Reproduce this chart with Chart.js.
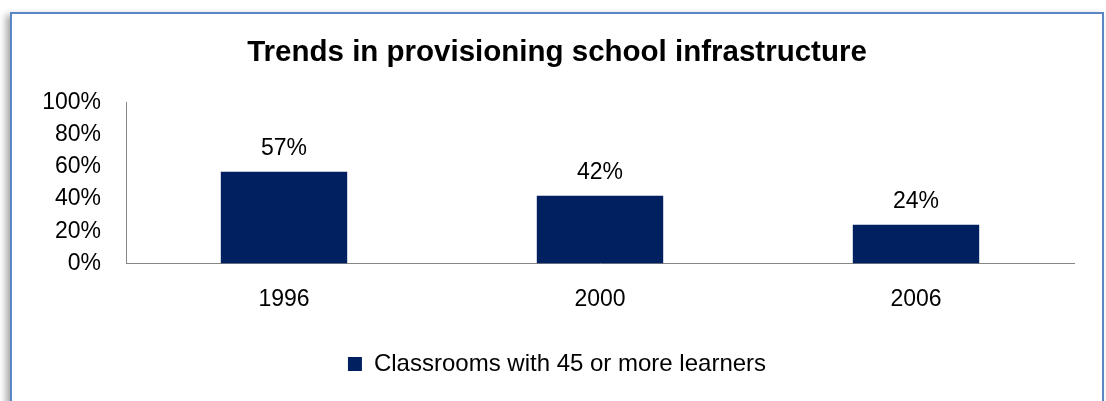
<!DOCTYPE html>
<html>
<head>
<meta charset="utf-8">
<title>Trends in provisioning school infrastructure</title>
<script src="https://cdn.jsdelivr.net/npm/chart.js@4/dist/chart.umd.min.js"></script>
<style>
  html, body { margin: 0; padding: 0; background: #ffffff; }
  body { width: 1106px; height: 401px; position: relative; overflow: hidden; }
  #frame {
    position: absolute; left: 10px; top: 12px; width: 1094px; height: 391px;
    box-sizing: border-box; border: 2px solid #5a86c3;
    box-shadow: -4px 3px 7px rgba(0, 0, 0, 0.35);
    background: #ffffff;
  }
  #chart { position: absolute; left: 0; top: 0; }
</style>
</head>
<body>
<div id="frame"></div>
<canvas id="chart" width="1106" height="401"></canvas>
<script>
// Share of classrooms holding 45 or more learners, by survey year
const years = ['1996', '2000', '2006'];
const crowdedClassrooms = [57, 42, 24];
const yTickStep = 20;
const yMax = 100;
const seriesName = 'Classrooms with 45 or more learners';
const chartTitle = 'Trends in provisioning school infrastructure';

const FONT = "'Liberation Sans', Arial, sans-serif";
const NAVY = '#002060';
const AXIS = '#868686';

// Writes each bar's percentage just above it
const valueLabels = {
  id: 'valueLabels',
  afterDatasetsDraw(chart) {
    const ctx = chart.ctx;
    ctx.save();
    ctx.font = '23px ' + FONT;
    ctx.fillStyle = '#000000';
    ctx.textAlign = 'center';
    ctx.textBaseline = 'middle';
    chart.data.datasets.forEach((ds, di) => {
      chart.getDatasetMeta(di).data.forEach((bar, i) => {
        ctx.fillText(ds.data[i] + '%', bar.x, bar.y - 23);
      });
    });
    ctx.restore();
  }
};

new Chart(document.getElementById('chart'), {
  type: 'bar',
  data: {
    labels: years,
    datasets: [{
      label: seriesName,
      data: crowdedClassrooms,
      backgroundColor: NAVY,
      borderWidth: 0,
      categoryPercentage: 1.0,
      barPercentage: 0.4
    }]
  },
  options: {
    responsive: false,
    animation: false,
    devicePixelRatio: 1,
    layout: { padding: { top: 0, left: 40, right: 32, bottom: 15 } },
    plugins: {
      title: {
        display: true,
        text: chartTitle,
        color: '#000000',
        font: { family: FONT, size: 29.5, weight: 'bold', lineHeight: 1.2 },
        padding: { top: 35, bottom: 32 }
      },
      legend: {
        display: true,
        position: 'bottom',
        labels: {
          color: '#000000',
          font: { family: FONT, size: 24 },
          boxWidth: 14,
          boxHeight: 14,
          padding: 8
        }
      },
      tooltip: { enabled: false }
    },
    scales: {
      x: {
        grid: { display: false, drawTicks: false },
        border: { display: true, color: AXIS, width: 1 },
        ticks: {
          color: '#000000',
          font: { family: FONT, size: 23, lineHeight: 1.2 },
          padding: 22,
          maxRotation: 0
        },
        afterFit(scale) {
          scale.height += 9;
          scale.paddingLeft = 0;
          scale.paddingRight = 0;
        }
      },
      y: {
        min: 0,
        max: yMax,
        grid: { display: false, drawTicks: false },
        border: { display: true, color: AXIS, width: 1 },
        ticks: {
          stepSize: yTickStep,
          autoSkip: false,
          color: '#000000',
          font: { family: FONT, size: 23 },
          padding: 25,
          callback: v => v + '%'
        },
        afterFit(scale) { scale.width = 86; }
      }
    }
  },
  plugins: [valueLabels]
});
</script>
</body>
</html>
